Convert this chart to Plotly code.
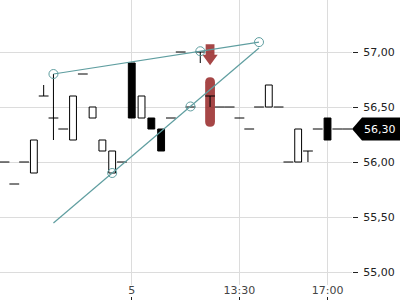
import plotly.graph_objects as go

# ---- data ----
bar_index = list(range(36))
opens  = [56.0, 55.8, 56.0, 55.9, 56.6, 56.4, 56.3, 56.2, 56.8, 56.4, 56.1, 55.9,
          56.0, 56.9, 56.4, 56.4, 56.3, 56.4, 57.0, 56.5, 57.0, 56.6, 56.5, 56.5,
          56.4, 56.3, 56.5, 56.5, 56.5, 56.0, 56.0, 56.1, 56.3, 56.4, 56.3, 56.3]
highs  = [56.0, 55.8, 56.0, 56.2, 56.7, 56.8, 56.3, 56.6, 56.8, 56.5, 56.2, 56.1,
          56.0, 56.9, 56.6, 56.4, 56.3, 56.4, 57.0, 56.5, 57.0, 56.6, 56.5, 56.5,
          56.4, 56.3, 56.5, 56.7, 56.5, 56.0, 56.3, 56.1, 56.3, 56.4, 56.3, 56.3]
lows   = [56.0, 55.8, 56.0, 55.9, 56.6, 56.2, 56.3, 56.2, 56.8, 56.4, 56.1, 55.9,
          56.0, 56.4, 56.4, 56.3, 56.1, 56.4, 57.0, 56.5, 56.9, 56.5, 56.5, 56.5,
          56.4, 56.3, 56.5, 56.5, 56.5, 56.0, 56.0, 56.0, 56.3, 56.2, 56.3, 56.3]
closes = [56.0, 55.8, 56.0, 56.2, 56.6, 56.4, 56.3, 56.6, 56.8, 56.5, 56.2, 56.1,
          56.0, 56.4, 56.6, 56.3, 56.1, 56.4, 57.0, 56.5, 57.0, 56.6, 56.5, 56.5,
          56.4, 56.3, 56.5, 56.7, 56.5, 56.0, 56.3, 56.1, 56.3, 56.2, 56.3, 56.3]

x_tick_vals = [13, 24, 33]
x_tick_text = ["5", "13:30", "17:00"]

# drawings
trend_a_x = [5, 26]
trend_a_y = [56.80, 57.09]
trend_a_pts_x = [5, 20, 26]
trend_a_pts_y = [56.80, 57.007, 57.09]
trend_b_x = [5, 26]
trend_b_y = [55.445, 57.036]
trend_b_pts_x = [11, 19]
trend_b_pts_y = [55.90, 56.505]

signal_x = 21
arrow_top, arrow_neck, arrow_tip = 57.07, 56.975, 56.88
band_top, band_bottom = 56.77, 56.32

TEAL = "#5f9ea0"
RED = "rgba(150,38,38,0.85)"
GRID = "#dcdcdc"
FONT = "DejaVu Sans"

# ---- derived ----
up_x, up_base, up_h = [], [], []
dn_x, dn_base, dn_h = [], [], []
doji_x, doji_y = [], []
wick_x, wick_y = [], []
for i, o, h, l, c in zip(bar_index, opens, highs, lows, closes):
    lo_b, hi_b = min(o, c), max(o, c)
    if c > o:
        up_x.append(i); up_base.append(o); up_h.append(c - o)
    elif c < o:
        dn_x.append(i); dn_base.append(c); dn_h.append(o - c)
    else:
        doji_x.append(i); doji_y.append(c)
    if h > hi_b:
        wick_x += [i, i, None]; wick_y += [hi_b, h, None]
    if l < lo_b:
        wick_x += [i, i, None]; wick_y += [l, lo_b, None]

fig = go.Figure()
fig.add_trace(go.Bar(x=up_x, y=up_h, base=up_base, width=0.7,
                     marker=dict(color="white", line=dict(color="black", width=1))))
fig.add_trace(go.Bar(x=dn_x, y=dn_h, base=dn_base, width=0.7,
                     marker=dict(color="black", line=dict(color="black", width=1))))
fig.add_trace(go.Scatter(x=wick_x, y=wick_y, mode="lines",
                         line=dict(color="black", width=1)))
fig.add_trace(go.Scatter(x=doji_x, y=doji_y, mode="markers",
                         marker=dict(symbol="line-ew", size=7, color="black",
                                     line=dict(color="black", width=1))))

fig.add_trace(go.Scatter(x=trend_a_x, y=trend_a_y, mode="lines",
                         line=dict(color=TEAL, width=1.2)))
fig.add_trace(go.Scatter(x=trend_b_x, y=trend_b_y, mode="lines",
                         line=dict(color=TEAL, width=1.2)))
fig.add_trace(go.Scatter(x=trend_a_pts_x + trend_b_pts_x, y=trend_a_pts_y + trend_b_pts_y,
                         mode="markers",
                         marker=dict(symbol="circle-open", size=9, color=TEAL,
                                     line=dict(color=TEAL, width=1))))

# signal shapes
w, r = 0.5, 0.045
band_path = (f"M {signal_x-w},{band_top-r} Q {signal_x-w},{band_top} {signal_x},{band_top} "
             f"Q {signal_x+w},{band_top} {signal_x+w},{band_top-r} "
             f"L {signal_x+w},{band_bottom+r} Q {signal_x+w},{band_bottom} {signal_x},{band_bottom} "
             f"Q {signal_x-w},{band_bottom} {signal_x-w},{band_bottom+r} Z")
sw, hw = 0.45, 0.78
arrow_path = (f"M {signal_x-sw},{arrow_top} L {signal_x+sw},{arrow_top} L {signal_x+sw},{arrow_neck} "
              f"L {signal_x+hw},{arrow_neck} L {signal_x},{arrow_tip} L {signal_x-hw},{arrow_neck} "
              f"L {signal_x-sw},{arrow_neck} Z")

last = closes[-1]
plot_w = 352
lx0, lx1, lx2 = 1.0, 362 / plot_w, 400 / plot_w
hh = 0.105
label_path = (f"M {lx0},{last} L {lx1},{last+hh} L {lx2},{last+hh} "
              f"L {lx2},{last-hh} L {lx1},{last-hh} Z")

fig.update_layout(
    shapes=[
        dict(type="path", path=band_path, xref="x", yref="y",
             fillcolor=RED, line=dict(width=0), layer="between"),
        dict(type="path", path=arrow_path, xref="x", yref="y",
             fillcolor=RED, line=dict(width=0), layer="between"),
        dict(type="path", path=label_path, xref="paper", yref="y",
             fillcolor="black", line=dict(width=0), layer="above"),
    ],
    annotations=[dict(x=lx1, y=last, xref="paper", yref="y", xanchor="left",
                      yanchor="middle", showarrow=False,
                      text=f"{last:.2f}".replace(".", ","),
                      font=dict(family=FONT, size=11, color="white"))],
)

fig.update_layout(
    width=400, height=300,
    margin=dict(l=0, r=400 - plot_w, t=0, b=0, pad=0),
    paper_bgcolor="white", plot_bgcolor="white",
    showlegend=False, barmode="overlay",
    separators=",.",
    font=dict(family=FONT, size=11, color="#222"),
    xaxis=dict(range=[-0.46, 35.5], tickvals=x_tick_vals, ticktext=x_tick_text,
               showgrid=True, gridcolor=GRID, gridwidth=1, zeroline=False,
               showline=False, anchor="free", position=0,
               ticks="inside", ticklen=3, tickcolor="#222",
               ticklabelposition="inside", fixedrange=True),
    yaxis=dict(side="right", domain=[0.05, 1], range=[54.882, 57.4727],
               tick0=55, dtick=0.5, tickformat=".2f",
               showgrid=True, gridcolor=GRID, gridwidth=1, zeroline=False,
               showline=False, ticks="outside", ticklen=5, tickcolor="#222",
               ticklabelstandoff=3),
)

fig.write_html("out.html")
